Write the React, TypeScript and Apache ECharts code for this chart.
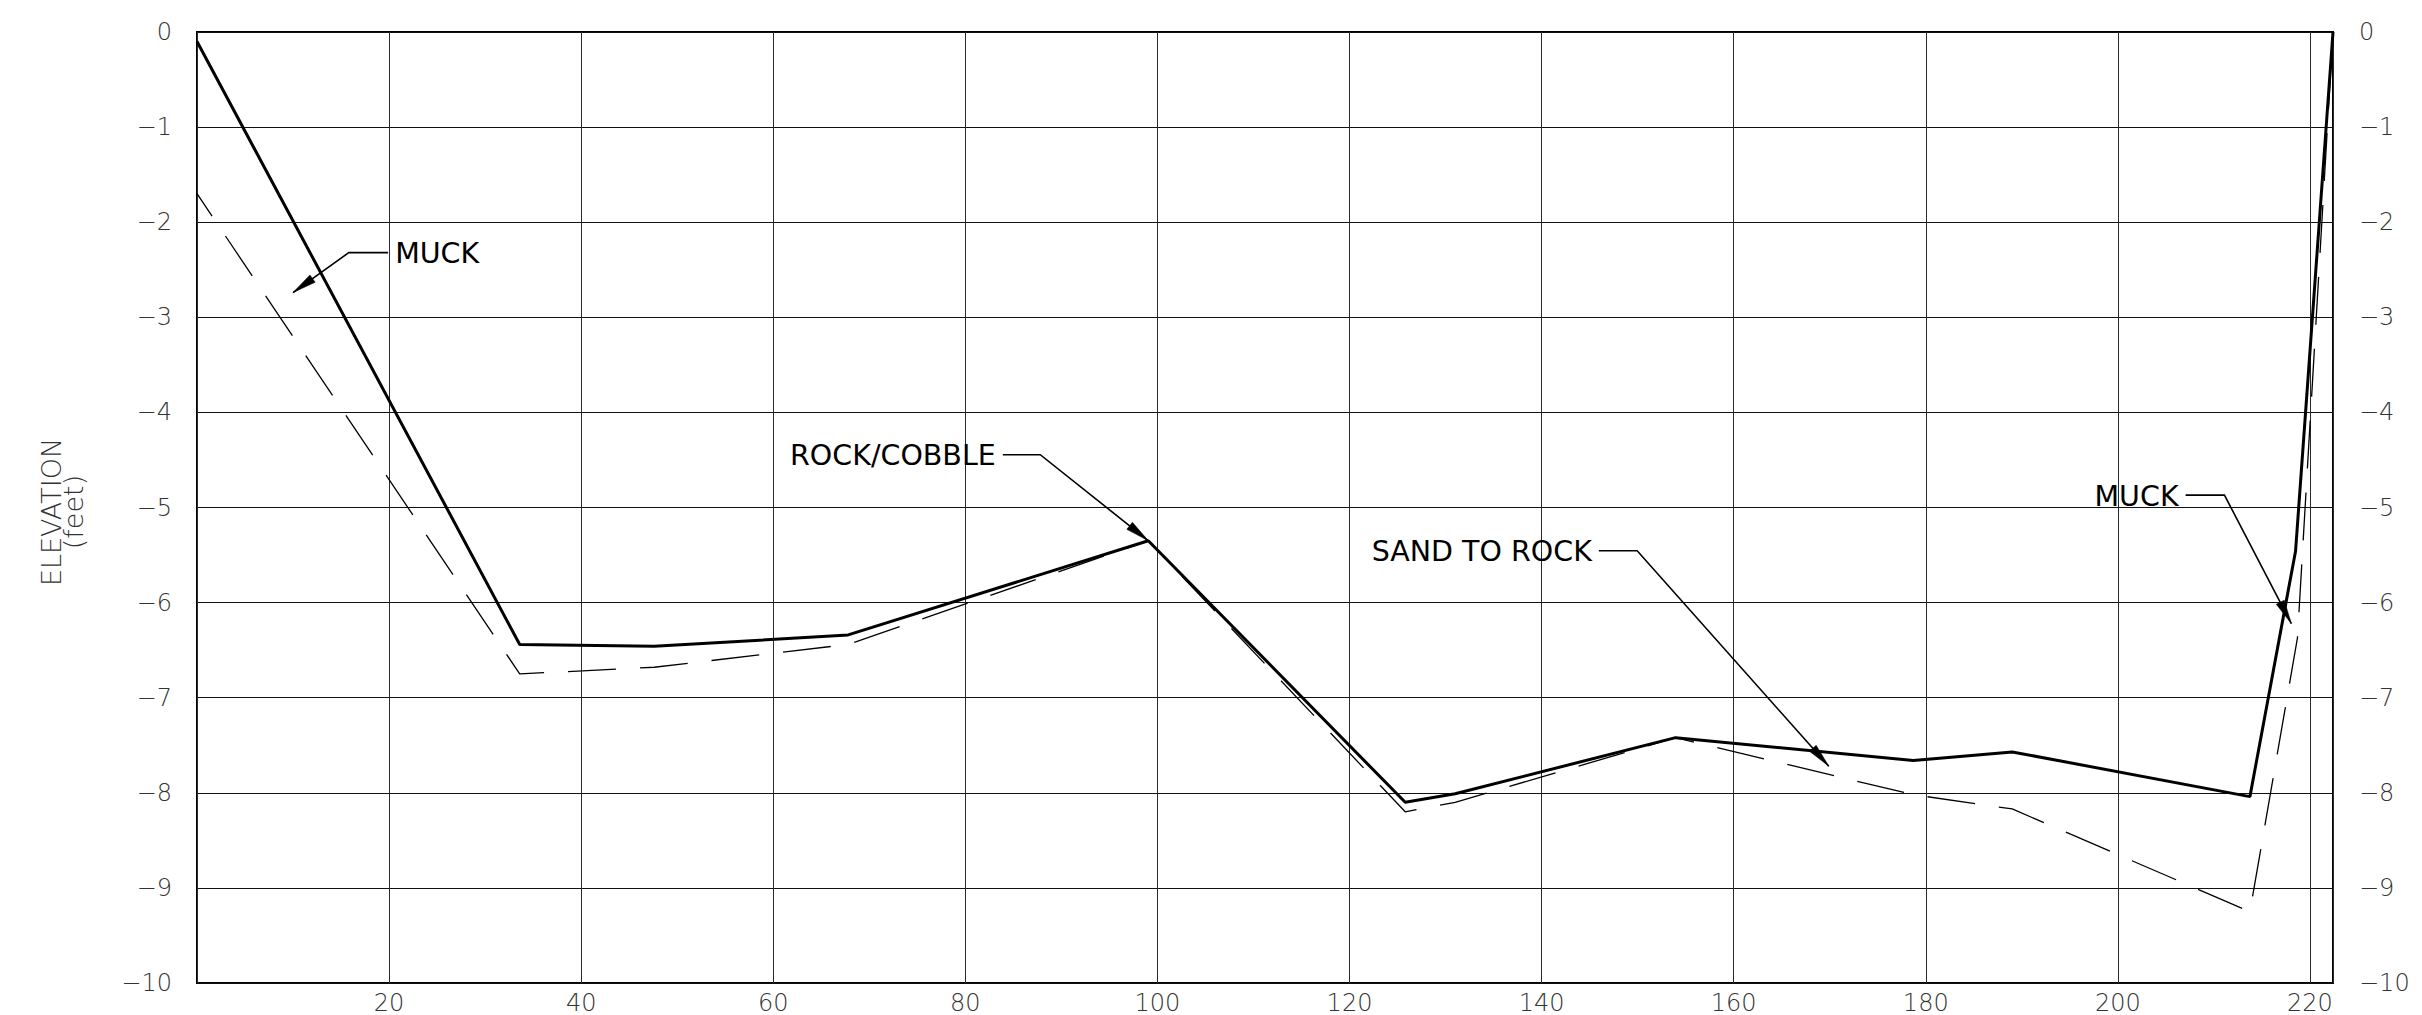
import React, { useEffect, useRef } from "react";
import * as echarts from "echarts";

// Station (ft) and elevation (ft) of the solid (top) profile
const solidStation = [0, 33.6, 47.6, 67.8, 99.05, 125.8, 131.0, 153.95, 178.7, 189.0, 213.75, 218.5, 222.4];
const solidElevation = [-0.1, -6.44, -6.46, -6.34, -5.35, -8.1, -8.01, -7.42, -7.66, -7.57, -8.04, -5.46, 0];

// Station (ft) and elevation (ft) of the dashed (lower) profile
const dashedStation = [0, 33.6, 47.6, 67.8, 99.05, 125.8, 131.0, 153.95, 178.7, 189.0, 213.75, 218.7, 222.4];
const dashedElevation = [-1.7, -6.75, -6.68, -6.44, -5.35, -8.2, -8.1, -7.42, -8.02, -8.17, -9.25, -6.37, 0];

// Axis extents / tick steps
const xMin = 0;
const xMax = 222.4;
const xStep = 20;
const yMin = -10;
const yMax = 0;
const yStep = 1;

// Callout annotations (anchors in data units: station, elevation)
const calloutLabels = ["MUCK", "ROCK/COBBLE", "SAND TO ROCK", "MUCK"];
const calloutLabelSide = ["left", "right", "right", "right"];
const calloutStart = [[19.9, -2.32], [83.9, -4.445], [145.96, -5.455], [207.05, -4.87]];
const calloutKnee = [[15.8, -2.32], [87.8, -4.445], [149.95, -5.455], [211.1, -4.87]];
const calloutTip = [[10.0, -2.74], [99.06, -5.35], [169.9, -7.72], [218.06, -6.22]];

const yAxisTitle = "ELEVATION\n(feet)";

const FONT = '"DejaVu Sans", "Liberation Sans", sans-serif';

function fmtY(v: number) {
  if (v < 0) return "\u2212" + Math.abs(v);
  return String(v);
}

export default function App() {
  const ref = useRef<HTMLDivElement>(null);

  useEffect(() => {
    if (!ref.current) return;
    document.body.style.margin = "0";
    document.body.style.overflow = "hidden";
    const chart = echarts.init(ref.current, undefined, { renderer: "svg" });

    const gridLeft = 197;
    const gridTop = 32;
    const gridWidth = 2136;
    const gridHeight = 960;

    const tickLabelStyle = {
      fontFamily: FONT,
      fontSize: 24,
      color: "#333",
      fontWeight: 300 as any,
    };

    chart.setOption({
      animation: false,
      backgroundColor: "#ffffff",
      grid: {
        left: gridLeft,
        top: gridTop,
        width: gridWidth,
        height: gridHeight,
        show: true,
        borderColor: "#000",
        borderWidth: 2,
        backgroundColor: "transparent",
      },
      xAxis: {
        type: "value",
        min: xMin,
        max: xMax,
        interval: xStep,
        axisLine: { show: false },
        axisTick: { show: false },
        splitLine: { show: true, lineStyle: { color: "#2a2a2a", width: 1 } },
        axisLabel: {
          ...tickLabelStyle,
          margin: 8,
          showMinLabel: false,
          formatter: (v: number) => (v !== 0 && Math.abs(v % xStep) < 1e-6 ? String(v) : ""),
        },
      },
      yAxis: [
        {
          type: "value",
          min: yMin,
          max: yMax,
          interval: yStep,
          position: "left",
          axisLine: { show: false },
          axisTick: { show: false },
          splitLine: { show: true, lineStyle: { color: "#111", width: 1 } },
          axisLabel: { ...tickLabelStyle, margin: 25, formatter: fmtY },
        },
        {
          type: "value",
          min: yMin,
          max: yMax,
          interval: yStep,
          position: "right",
          axisLine: { show: false },
          axisTick: { show: false },
          splitLine: { show: false },
          axisLabel: { ...tickLabelStyle, margin: 26, formatter: fmtY },
        },
      ],
      series: [
        {
          name: "Dashed profile",
          type: "line",
          data: dashedStation.map((x, i) => [x, dashedElevation[i]]),
          symbol: "none",
          silent: true,
          lineStyle: { color: "#000", width: 1.3, type: [48, 24], dashOffset: 21 },
          z: 3,
        },
        {
          name: "Solid profile",
          type: "line",
          data: solidStation.map((x, i) => [x, solidElevation[i]]),
          symbol: "none",
          silent: true,
          lineStyle: { color: "#000", width: 3 },
          z: 4,
        },
      ],
    });

    const toPx = (p: number[]) => chart.convertToPixel({ gridIndex: 0 }, p) as number[];
    const graphics: any[] = [];

    calloutLabels.forEach((label, i) => {
      const s = toPx(calloutStart[i]);
      const k = toPx(calloutKnee[i]);
      const t = toPx(calloutTip[i]);
      const side = calloutLabelSide[i];
      const gap = 7;
      graphics.push({
        type: "text",
        x: side === "left" ? s[0] + gap : s[0] - gap,
        y: s[1] + 1,
        z: 10,
        style: {
          text: label,
          fill: "#000",
          font: `28.5px ${FONT}`,
          textAlign: side === "left" ? "left" : "right",
          textVerticalAlign: "middle",
        },
      });
      graphics.push({
        type: "polyline",
        z: 10,
        shape: { points: [s, k, t] },
        style: { stroke: "#000", lineWidth: 1.6, fill: null },
      });
      const dx = t[0] - k[0];
      const dy = t[1] - k[1];
      const len = Math.sqrt(dx * dx + dy * dy) || 1;
      const ux = dx / len;
      const uy = dy / len;
      const L = 24;
      const hw = 4.5;
      const bx = t[0] - ux * L;
      const by = t[1] - uy * L;
      graphics.push({
        type: "polygon",
        z: 10,
        shape: {
          points: [
            [t[0], t[1]],
            [bx - uy * hw, by + ux * hw],
            [bx + uy * hw, by - ux * hw],
          ],
        },
        style: { fill: "#000", stroke: "#000", lineWidth: 0.5 },
      });
    });

    graphics.push({
      type: "text",
      x: 62,
      y: 512,
      rotation: Math.PI / 2,
      z: 10,
      style: {
        text: yAxisTitle,
        fill: "#333",
        font: `300 27px ${FONT}`,
        textAlign: "center",
        textVerticalAlign: "middle",
        lineHeight: 22,
      },
    });

    chart.setOption({ graphic: graphics });

    return () => chart.dispose();
  }, []);

  return (
    <div
      style={{
        position: "absolute",
        left: 0,
        top: 0,
        width: 2422,
        height: 1015,
        overflow: "hidden",
        background: "#fff",
      }}
    >
      <div ref={ref} style={{ width: 2422, height: 1015 }} />
    </div>
  );
}
